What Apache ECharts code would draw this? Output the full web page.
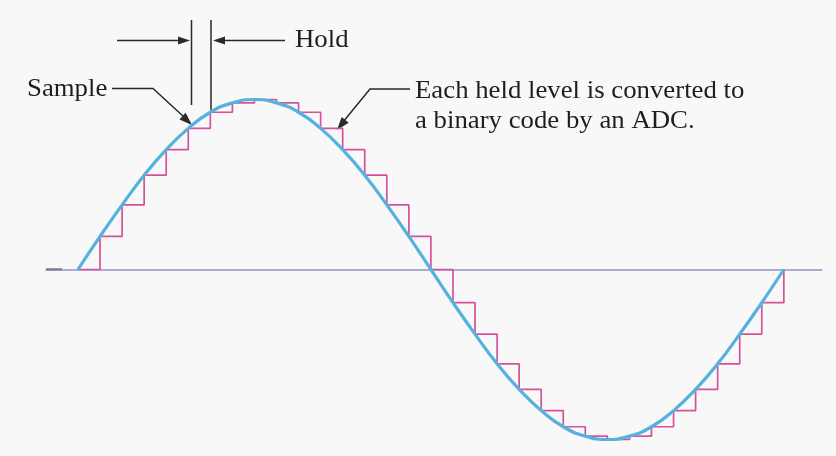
<!DOCTYPE html>
<html><head><meta charset="utf-8">
<script src="https://cdn.jsdelivr.net/npm/echarts@6/dist/echarts.min.js"></script>
<style>html,body{margin:0;padding:0;background:#f8f8f8}#c{width:836px;height:456px}</style>
</head><body><div id="c"></div>
<script>
// sample instants (one analog period, 32 samples)
const sampleIndex = [0,1,2,3,4,5,6,7,8,9,10,11,12,13,14,15,16,17,18,19,20,21,22,23,24,25,26,27,28,29,30,31,32];
// analog level at each sample instant (fraction of peak)
const sampleLevels = [0,0.195,0.38,0.555,0.705,0.83,0.925,0.98,1.00,0.98,0.925,0.83,0.705,0.555,0.38,0.195,0,
  -0.195,-0.38,-0.555,-0.705,-0.83,-0.925,-0.98,-1.00,-0.98,-0.925,-0.83,-0.705,-0.555,-0.38,-0.195,0];
const labelHold = 'Hold';
const labelSample = 'Sample';
const labelNote = ['Each held level is converted to', 'a binary code by an ADC.'];

const pts = sampleIndex.map((x, i) => [x, sampleLevels[i]]);
const INK = '#2a2a2a';
const FONT = '"Liberation Serif", "DejaVu Serif", serif';

function arrowHead(from, tip, len, half) {
  const dx = tip[0] - from[0], dy = tip[1] - from[1];
  const L = Math.hypot(dx, dy), ux = dx / L, uy = dy / L;
  const bx = tip[0] - ux * len, by = tip[1] - uy * len;
  return { type: 'polygon', silent: true,
    shape: { points: [tip, [bx - uy * half, by + ux * half], [bx + uy * half, by - ux * half]] },
    style: { fill: INK } };
}
function pline(points, w, c) {
  return { type: 'polyline', silent: true, shape: { points }, style: { stroke: c || INK, lineWidth: w || 1.5, fill: null } };
}
function txt(x, y, s) {
  return { type: 'text', silent: true, x, y, scaleX: 1.03,
    style: { text: s, font: '26px ' + FONT, fill: '#1e1e1e', textVerticalAlign: 'middle', textAlign: 'left' } };
}

const chart = echarts.init(document.getElementById('c'), null, { renderer: 'canvas' });
chart.setOption({
  animation: false,
  backgroundColor: '#f8f8f8',
  grid: { left: 46, width: 776, top: 82.5, height: 365.5 },
  xAxis: { type: 'value', min: -1.45, max: 33.73, show: true,
    axisLine: { show: true, onZero: true, lineStyle: { color: '#9890c6', width: 1.5 } },
    axisTick: { show: false }, axisLabel: { show: false }, splitLine: { show: false } },
  yAxis: { type: 'value', min: -1.05, max: 1.1, show: false, splitLine: { show: false } },
  series: [
    { type: 'line', data: pts, step: 'end', symbol: 'none', z: 2,
      lineStyle: { color: '#d6509a', width: 1.7 } },
    { type: 'line', data: pts, smooth: 0.5, symbol: 'none', z: 3,
      lineStyle: { color: '#55b1de', width: 3.2 } }
  ],
  graphic: [
    // dark stub at the left end of the baseline
    pline([[46, 269.5], [62, 269.5]], 2, '#3a3a3a'),
    // Hold markers
    pline([[117, 40.5], [182, 40.5]]), arrowHead([117, 40.5], [190, 40.5], 12, 4),
    pline([[191.5, 20], [191.5, 105]]),
    pline([[211, 20], [211, 110]]),
    pline([[285, 40.5], [221, 40.5]]), arrowHead([285, 40.5], [213, 40.5], 12, 4),
    txt(295, 40, labelHold),
    // Sample callout
    txt(27, 89, labelSample),
    pline([[112, 88.5], [153, 88.5], [184, 117]]), arrowHead([153, 88.5], [192, 125], 13, 4.5),
    // ADC note callout
    pline([[410, 89], [370, 89], [343, 122]]), arrowHead([370, 89], [337, 130], 13, 4.5),
    txt(415, 91, labelNote[0]),
    txt(415, 121, labelNote[1])
  ]
});
</script></body></html>
